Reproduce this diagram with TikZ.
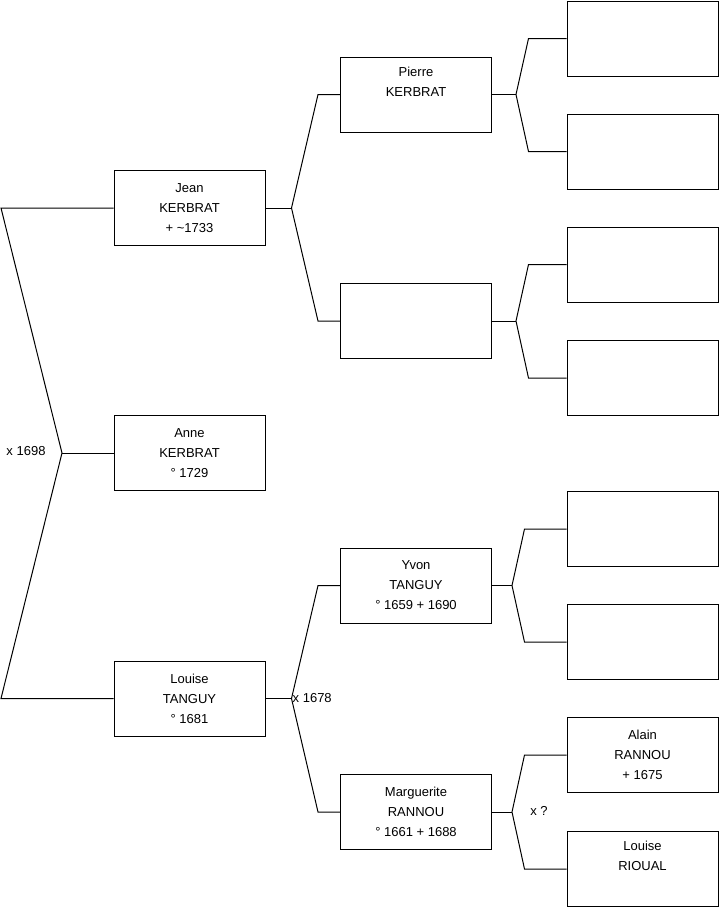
\documentclass[tikz,border=0pt]{standalone}
\usepackage{fontspec}
\setmainfont{Liberation Sans}

\tikzset{
  person/.style={draw, line width=1pt, minimum width=151pt, minimum height=75pt,
    inner sep=0pt, align=center, font=\fontsize{13}{20}\selectfont},
  link/.style={line width=1pt},
  wedding/.style={font=\fontsize{13}{15}\selectfont, inner sep=0pt},
}

\begin{document}
\begin{tikzpicture}[x=1pt,y=-1pt]
\useasboundingbox (0,0) rectangle (719,908);

% generation 1
\node[person] (jean)   at (189.5,208) {Jean\\KERBRAT\\ + \textasciitilde1733};
\node[person] (anne)   at (189.5,453) {Anne\\KERBRAT\\° 1729};
\node[person] (louise) at (189.5,698.5) {Louise\\TANGUY\\° 1681};

% generation 2
\node[person] (pierre)     at (416,94.5)  {Pierre\\KERBRAT\\ \strut};
\node[person] (kerbratw)   at (416,321)   {};
\node[person] (yvon)       at (416,585.5) {Yvon\\TANGUY\\° 1659 + 1690};
\node[person] (marguerite) at (416,812)   {Marguerite\\RANNOU\\° 1661 + 1688};

% generation 3
\foreach \n/\y in {ggp1/38.5, ggp2/151.5, ggp3/264.5, ggp4/378, ggp5/529, ggp6/642}
  \node[person] (\n) at (642.5,\y) {};
\node[person] (alain)  at (642.5,755) {Alain\\RANNOU\\ + 1675};
\node[person] (louiser) at (642.5,869)  {Louise\\RIOUAL\\ \strut};

% couple of the children
\coordinate (fa) at (62,453);
\draw[link] (jean.west) -- (1,208) -- (fa) -- (1,698.5) -- (louise.west);
\draw[link] (fa) -- (anne.west);
\node[wedding] (w1698) at (26,451) {x 1698};

% parents
\foreach \p/\a/\b/\f/\k in {jean/pierre/kerbratw/26/22, louise/yvon/marguerite/26/22,
    pierre/ggp1/ggp2/24/38, kerbratw/ggp3/ggp4/24/38,
    yvon/ggp5/ggp6/20/42, marguerite/alain/louiser/20/42}
{
  \draw[link] (\p.east) -- ([xshift=\f]\p.east);
  \draw[link] (\a.west) -- +(-\k,0) -- ([xshift=\f]\p.east) -- ([xshift=-\k]\b.west) -- (\b.west);
}
\node[wedding, anchor=west] (w1678) at ([xshift=27]louise.east) {x 1678};
\node[wedding] (wq) at (539,811) {x ?};
\end{tikzpicture}
\end{document}
